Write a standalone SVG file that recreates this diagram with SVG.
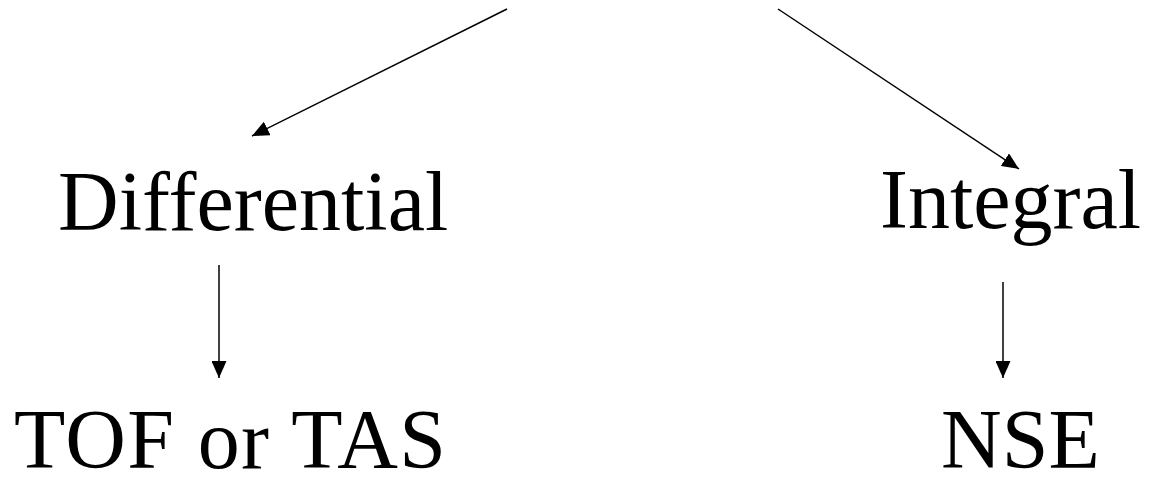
<svg xmlns="http://www.w3.org/2000/svg" width="1150" height="478" viewBox="0 0 1150 478">
<style>
.lbl{font-family:"Liberation Serif","Times New Roman",serif;font-size:84px;fill:#000}
.cn{stroke:#000;stroke-width:1.5;fill:none;marker-end:url(#ah)}
</style>
<defs>
<marker id="ah" markerUnits="userSpaceOnUse" markerWidth="17" markerHeight="15" refX="17" refY="7.5" orient="auto">
<path d="M0,0 L17,7.5 L0,15 Z" fill="#000"/>
</marker>
</defs>
<rect width="1150" height="478" fill="#fff"/>
<g id="connectors">
<line class="cn" x1="507" y1="9" x2="252" y2="136"/>
<line class="cn" x1="778" y1="9" x2="1019" y2="169"/>
<line class="cn" x1="219" y1="265" x2="219" y2="378"/>
<line class="cn" x1="1003" y1="282" x2="1003" y2="378"/>
</g>
<g id="differential"><text class="lbl" x="58" y="230">Differential</text></g>
<g id="integral"><text class="lbl" x="880" y="228">Integral</text></g>
<g id="tof"><text class="lbl" x="14" y="468" textLength="432" lengthAdjust="spacing">TOF or TAS</text></g>
<g id="nse"><text class="lbl" x="941" y="468">NSE</text></g>
</svg>
